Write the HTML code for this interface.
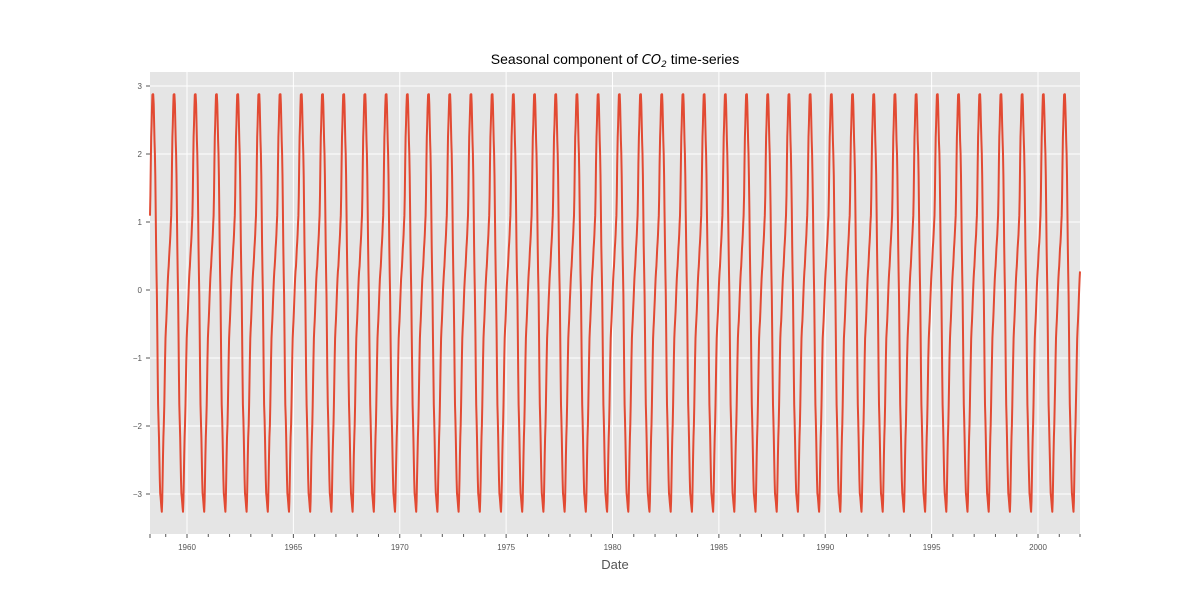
<!DOCTYPE html>
<html><head><meta charset="utf-8"><style>
body{margin:0;background:#fff;}
svg{display:block;font-family:"Liberation Sans","DejaVu Sans",sans-serif;}
</style></head><body>
<svg id="s" width="1200" height="600" xmlns="http://www.w3.org/2000/svg">
<rect x="150" y="72" width="930" height="462" fill="#E5E5E5"/>
<g id="grid" stroke="#fff" stroke-width="1"></g>
<g id="ticks" stroke="#555" stroke-width="1"></g>
<g id="labels" fill="#555" font-size="8"></g>
<polyline id="line" fill="none" stroke="#E24A33" stroke-width="2" stroke-linejoin="round"/>
<text x="615" y="64" text-anchor="middle" font-size="14" fill="#000">Seasonal component of  <tspan font-family="DejaVu Sans" font-style="italic" font-size="13">CO</tspan><tspan font-family="DejaVu Sans" font-style="italic" font-size="9" dy="3">2</tspan><tspan dy="-3"> time-series</tspan></text>
<text x="615" y="569" text-anchor="middle" font-size="13" fill="#555">Date</text>
</svg>
<script>
var NS="http://www.w3.org/2000/svg";
function el(p,t,a,txt){var e=document.createElementNS(NS,t);for(var k in a)e.setAttribute(k,a[k]);if(txt!=null)e.textContent=txt;document.getElementById(p).appendChild(e);}
function X(t){return 187+(t-1960)*21.275;}
function Y(v){return 290-v*68;}
for(var v=-3;v<=3;v++){el("grid","line",{x1:150,x2:1080,y1:Y(v),y2:Y(v)});
 el("ticks","line",{x1:146,x2:150,y1:Y(v),y2:Y(v)});
 el("labels","text",{x:142,y:Y(v)+3,"text-anchor":"end"},v<0?"\u2212"+(-v):""+v);}
for(var y=1960;y<=2000;y+=5){el("grid","line",{x1:X(y),x2:X(y),y1:72,y2:534});
 el("labels","text",{x:X(y),y:550,"text-anchor":"middle"},""+y);}
for(var y=1959;y<=2002;y++){var x=X(y);if(x<150)x=150;if(x>1080)x=1080;el("ticks","line",{x1:x,x2:x,y1:534,y2:(y%5==0?538:537)});}
el("ticks","line",{x1:150,x2:150,y1:534,y2:538});
var kp=[[0,-3.27],[0.08,-2.1],[0.18,-0.6],[0.31,0.3],[0.38,0.7],[0.44,1.1],[0.50,2.3],[0.555,2.88],[0.595,2.88],[0.67,2.0],[0.75,0.2],[0.83,-1.8],[0.92,-3.0],[1,-3.27]];
function f(p){for(var i=0;i<kp.length-1;i++){if(p>=kp[i][0]&&p<=kp[i+1][0]){var a=kp[i],b=kp[i+1],u=(p-a[0])/(b[0]-a[0]);u=u*u*(3-2*u)*0.5+u*0.5;return a[1]+(b[1]-a[1])*u;}}return kp[0][1];}
var P=364/365.25,pts=[];
for(var t=1958.26;t<=2001.98;t+=7/365.25){var ph=((t-1958.82)/P)%1;if(ph<0)ph+=1;pts.push(X(t).toFixed(1)+","+Y(f(ph)).toFixed(1));}
document.getElementById("line").setAttribute("points",pts.join(" "));
</script>
</body></html>
